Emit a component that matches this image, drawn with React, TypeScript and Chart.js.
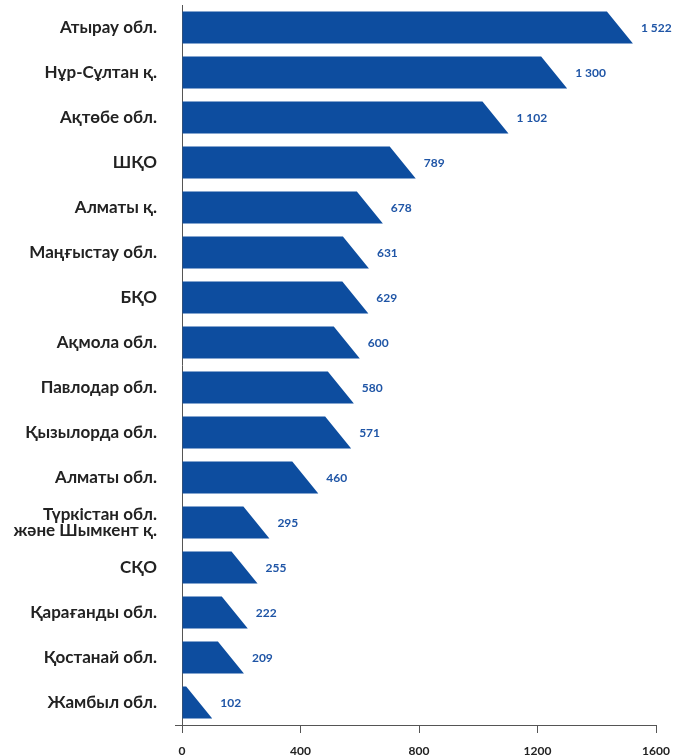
import React, { useEffect, useRef } from "react";
import { Chart, registerables } from "chart.js";

Chart.register(...registerables);

const categories: (string | string[])[] = [
  "Атырау обл.",
  "Нұр-Сұлтан қ.",
  "Ақтөбе обл.",
  "ШҚО",
  "Алматы қ.",
  "Маңғыстау обл.",
  "БҚО",
  "Ақмола обл.",
  "Павлодар обл.",
  "Қызылорда обл.",
  "Алматы обл.",
  ["Түркістан обл.", "және Шымкент қ."],
  "СҚО",
  "Қарағанды обл.",
  "Қостанай обл.",
  "Жамбыл обл.",
];

const values: number[] = [1522, 1300, 1102, 789, 678, 631, 629, 600, 580, 571, 460, 295, 255, 222, 209, 102];

const xTicks: number[] = [0, 400, 800, 1200, 1600];

const BAR_COLOR = "#0d4d9f";
const LABEL_COLOR = "#1f55a6";
const AXIS_COLOR = "#555";
const FONT = "Lato, 'Noto Sans', sans-serif";

const fmt = (v: number) => {
  const s = String(v);
  return s.length > 3 ? s.slice(0, s.length - 3) + " " + s.slice(s.length - 3) : s;
};

const slantBars = {
  id: "slantBars",
  afterDatasetsDraw(chart: any) {
    const ctx = chart.ctx;
    const meta = chart.getDatasetMeta(0);
    ctx.save();
    meta.data.forEach((el: any, i: number) => {
      const { x, y, base, height } = el.getProps(["x", "y", "base", "height"], true);
      const top = y - height / 2;
      const bottom = y + height / 2;
      const slant = Math.min(26, x - base);
      ctx.beginPath();
      ctx.moveTo(base, top);
      ctx.lineTo(x - slant, top);
      ctx.lineTo(x, bottom);
      ctx.lineTo(base, bottom);
      ctx.closePath();
      ctx.fillStyle = BAR_COLOR;
      ctx.fill();
      ctx.font = `bold 12px ${FONT}`;
      ctx.fillStyle = LABEL_COLOR;
      ctx.textAlign = "left";
      ctx.textBaseline = "middle";
      ctx.fillText(fmt(values[i]), x + 8, y + 1);
    });
    // small extension of the x axis line to the left of the y axis
    const { left, bottom } = chart.chartArea;
    ctx.strokeStyle = AXIS_COLOR;
    ctx.lineWidth = 1;
    ctx.beginPath();
    ctx.moveTo(left - 7, Math.round(bottom) + 0.5);
    ctx.lineTo(left, Math.round(bottom) + 0.5);
    ctx.stroke();
    ctx.restore();
  },
};

export default function App() {
  const ref = useRef<HTMLCanvasElement>(null);
  useEffect(() => {
    if (!ref.current) return;
    const chart = new Chart(ref.current, {
      type: "bar",
      data: {
        labels: categories,
        datasets: [
          {
            data: values,
            backgroundColor: "rgba(0,0,0,0)",
            borderWidth: 0,
            categoryPercentage: 1,
            barPercentage: 0.71,
          },
        ],
      },
      options: {
        indexAxis: "y",
        animation: false,
        responsive: false,
        maintainAspectRatio: false,
        layout: { padding: { top: 5, right: 17, left: 0, bottom: 0 } },
        plugins: { legend: { display: false }, tooltip: { enabled: false } },
        scales: {
          x: {
            min: 0,
            max: 1600,
            afterBuildTicks: (scale: any) => {
              scale.ticks = xTicks.map((v) => ({ value: v }));
            },
            afterFit: (scale: any) => {
              scale.height = 31;
              scale.paddingLeft = 0;
              scale.paddingRight = 0;
            },
            grid: { drawOnChartArea: false, drawTicks: true, tickLength: 8, color: AXIS_COLOR, lineWidth: 1 },
            border: { display: true, color: AXIS_COLOR, width: 1 },
            ticks: {
              font: { family: FONT, size: 12, weight: "bold" },
              color: "#222",
              padding: 11,
              maxRotation: 0,
              callback: (v: any) => String(v),
            },
          },
          y: {
            offset: true,
            afterFit: (scale: any) => {
              scale.width = 182;
              scale.paddingTop = 0;
              scale.paddingBottom = 0;
            },
            grid: { display: false, drawTicks: false },
            border: { display: true, color: AXIS_COLOR, width: 1 },
            ticks: {
              font: { family: FONT, size: 17, weight: "bold", lineHeight: 0.9 },
              color: "#222",
              padding: 25,
            },
          },
        },
      },
      plugins: [slantBars],
    });
    return () => chart.destroy();
  }, []);
  return (
    <div style={{ position: "fixed", left: 0, top: 0, width: 673, height: 756, background: "#fff" }}>
      <canvas ref={ref} width={673} height={756} style={{ display: "block" }} />
    </div>
  );
}
